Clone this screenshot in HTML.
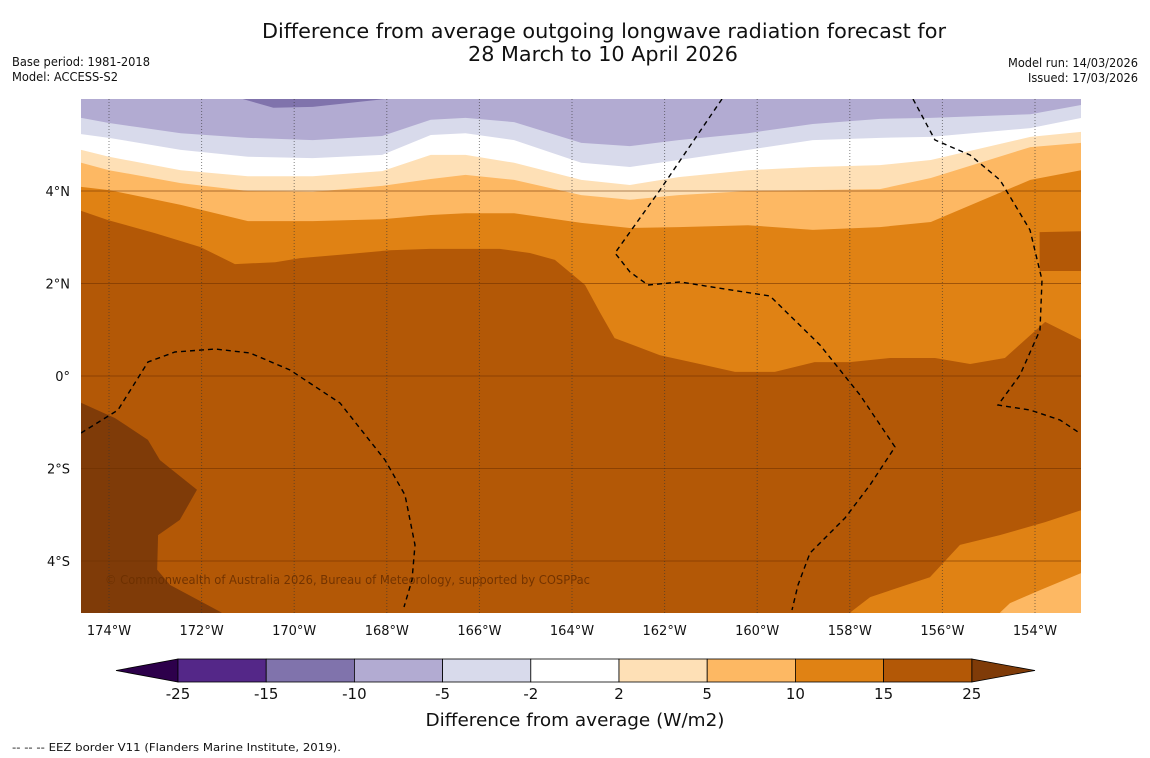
<!DOCTYPE html>
<html><head><meta charset="utf-8"><style>
body{margin:0;background:#fff;font-family:"DejaVu Sans","Liberation Sans",sans-serif}
svg{display:block}
text{font-family:"DejaVu Sans","Liberation Sans",sans-serif}
</style></head><body>
<svg id="c" width="1150" height="758" viewBox="0 0 1150 758" xmlns="http://www.w3.org/2000/svg">
<rect width="1150" height="758" fill="#fff"/>
<text x="604" y="38" font-size="20" text-anchor="middle" fill="#111" textLength="684" lengthAdjust="spacingAndGlyphs">Difference from average outgoing longwave radiation forecast for</text>
<text x="603" y="61" font-size="20" text-anchor="middle" fill="#111" textLength="270" lengthAdjust="spacingAndGlyphs">28 March to 10 April 2026</text>
<text x="12" y="66" font-size="12" fill="#111" textLength="138" lengthAdjust="spacingAndGlyphs">Base period: 1981-2018</text>
<text x="12" y="81" font-size="12" fill="#111" textLength="106" lengthAdjust="spacingAndGlyphs">Model: ACCESS-S2</text>
<text x="1138" y="67" font-size="12" text-anchor="end" fill="#111" textLength="130" lengthAdjust="spacingAndGlyphs">Model run: 14/03/2026</text>
<text x="1138" y="82" font-size="12" text-anchor="end" fill="#111" textLength="110" lengthAdjust="spacingAndGlyphs">Issued: 17/03/2026</text>
<defs><clipPath id="mapclip"><rect x="81" y="99" width="1000" height="514"/></clipPath></defs>
<g id="map" clip-path="url(#mapclip)"></g>
<g id="axes"></g>
<g id="cbar"></g>
<text x="575" y="726" font-size="18" text-anchor="middle" fill="#111" textLength="299" lengthAdjust="spacingAndGlyphs">Difference from average (W/m2)</text>
<text x="12" y="751" font-size="11" fill="#111" textLength="329" lengthAdjust="spacingAndGlyphs">--  --  -- EEZ border V11 (Flanders Marine Institute, 2019).</text>
</svg>
<script>
// ---- data (lon/lat, degrees) ----
const contourLons = [-174.6,-174.0,-172.45,-171.0,-169.6,-168.1,-167.05,-166.3,-165.25,-163.8,-162.75,-161.7,-160.2,-158.8,-157.35,-156.25,-154.1,-153.0];
const latM5 = [5.58,5.47,5.25,5.15,5.10,5.19,5.54,5.58,5.49,5.04,4.97,5.10,5.25,5.45,5.56,5.58,5.66,5.86];
const latM2 = [5.23,5.15,4.89,4.74,4.71,4.78,5.21,5.25,5.10,4.61,4.52,4.67,4.89,5.10,5.15,5.17,5.36,5.58];
const latP2 = [4.89,4.74,4.45,4.32,4.32,4.43,4.78,4.78,4.61,4.24,4.13,4.30,4.45,4.52,4.56,4.67,5.17,5.28];
const latP5 = [4.61,4.45,4.17,4.00,3.98,4.11,4.26,4.35,4.24,3.91,3.81,3.91,4.00,4.02,4.04,4.28,4.95,5.04];
const latP10 = [4.09,4.02,3.70,3.35,3.35,3.39,3.48,3.52,3.52,3.31,3.20,3.22,3.26,3.16,3.22,3.33,4.24,4.45];
const lons15 = [-174.6,-174.02,-173.01,-172.03,-171.28,-170.41,-169.87,-168.79,-167.93,-167.07,-165.56,-164.91,-164.37,-163.72,-163.4,-163.08,-162.1,-161.24,-160.48,-159.62,-158.76,-158.0,-157.13,-156.16,-155.4,-154.65,-153.78,-153.0];
const lats15 = [3.57,3.37,3.09,2.79,2.42,2.46,2.55,2.64,2.72,2.75,2.75,2.66,2.51,1.97,1.38,0.82,0.45,0.26,0.09,0.09,0.30,0.30,0.39,0.39,0.26,0.39,1.17,0.78];
const lonsM10 = [-171.15,-170.45,-169.6,-167.93];
const latsM10 = [6.0,5.80,5.82,6.0];
const lonsPatch = [-153.9,-153.0,-153.0,-153.9];
const latsPatch = [3.11,3.13,2.27,2.27];
const lonsBR10 = [-158.0,-157.56,-156.27,-155.62,-154.76,-153.78,-153.0,-153.0];
const latsBR10 = [-5.12,-4.78,-4.35,-3.65,-3.44,-3.16,-2.90,-5.2];
const lonsBR5 = [-154.76,-154.54,-153.89,-153.0,-153.0];
const latsBR5 = [-5.12,-4.91,-4.63,-4.26,-5.2];
const lonsL25 = [-174.7,-174.6,-173.87,-173.16,-172.9,-172.1,-172.47,-172.94,-172.96,-172.68,-171.56,-174.7];
const latsL25 = [-0.58,-0.58,-0.91,-1.38,-1.82,-2.46,-3.11,-3.44,-4.19,-4.52,-5.12,-5.2];
const lonTicks = [-174,-172,-170,-168,-166,-164,-162,-160,-158,-156,-154];
const lonTickLabels = ["174°W","172°W","170°W","168°W","166°W","164°W","162°W","160°W","158°W","156°W","154°W"];
const latTicks = [4,2,0,-2,-4];
const latTickLabels = ["4°N","2°N","0°","2°S","4°S"];
const cbLevels = [-25,-15,-10,-5,-2,2,5,10,15,25];
const cbColors = ["#542788","#8073ac","#b2abd2","#d8daeb","#ffffff","#fee0b6","#fdb863","#e08214","#b35806"];

const NS="http://www.w3.org/2000/svg";
const X = lon => 109 + (lon + 174) * 46.3;
const Y = lat => 376 - lat * 46.25;
function mk(tag, attrs, parent){const e=document.createElementNS(NS,tag);for(const k in attrs)e.setAttribute(k,attrs[k]);parent.appendChild(e);return e;}
const map=document.getElementById('map');
function polyAbove(lons,lats,color,name){
  let pts=[[X(lons[0]),95]];
  lons.forEach((l,i)=>pts.push([X(l),Y(lats[i])]));
  pts.push([X(lons[lons.length-1])+2,Y(lats[lats.length-1])]);
  pts.push([X(lons[lons.length-1])+2,95]);
  pts[0][0]-=2; pts.splice(1,0,[X(lons[0])-2,Y(lats[0])]);
  const p=mk('polygon',{points:pts.map(q=>q.join(',')).join(' '),fill:color},map);
  
  
}
function poly(lons,lats,color,name){
  const p=mk('polygon',{points:lons.map((l,i)=>X(l)+','+Y(lats[i])).join(' '),fill:color},map);
  
  
}
const base=mk('rect',{x:81,y:99,width:1000,height:514,fill:'#b35806'},map);


polyAbove(lons15,lats15,'#e08214','band-10-15');
polyAbove(contourLons,latP10,'#fdb863','band-5-10');
polyAbove(contourLons,latP5,'#fee0b6','band-2-5');
polyAbove(contourLons,latP2,'#ffffff','band-neutral');
polyAbove(contourLons,latM2,'#d8daeb','band-minus5-minus2');
polyAbove(contourLons,latM5,'#b2abd2','band-minus10-minus5');
poly(lonsM10,latsM10,'#8073ac','band-minus15-minus10');
poly(lonsPatch,latsPatch,'#b35806','patch-15-25-east');
poly(lonsBR10,latsBR10,'#e08214','patch-10-15-southeast');
poly(lonsBR5,latsBR5,'#fdb863','patch-5-10-southeast');
poly(lonsL25,latsL25,'#7f3b08','band-above-25');
// grid
const axes=document.getElementById('axes');
latTicks.forEach((lat,i)=>{
  const l=mk('line',{x1:81,x2:1081,y1:Y(lat),y2:Y(lat),stroke:'#6b3000','stroke-opacity':0.55,'stroke-width':1},map);
  
  
  const t=mk('text',{x:70,y:Y(lat)+5,'font-size':13,'text-anchor':'end',fill:'#111'},axes);
  t.textContent=latTickLabels[i];
  
  
});
lonTicks.forEach((lon,i)=>{
  const l=mk('line',{x1:X(lon),x2:X(lon),y1:99,y2:613,stroke:'#333','stroke-opacity':0.6,'stroke-width':1,'stroke-dasharray':'1,2'},map);
  
  
  const t=mk('text',{x:X(lon),y:635,'font-size':13,'text-anchor':'middle',fill:'#111'},axes);
  t.textContent=lonTickLabels[i];
  
  
});
// EEZ borders (decorative)
const eez=[
 "81,433 118,410 148,362 175,352 215,349 250,353 290,370 340,403 385,460 405,495 415,545 412,580 404,607",
 "722,99 660,190 615,253 630,272 648,285 680,282 770,296 820,345 860,395 895,447 870,485 845,518 810,553 798,585 792,610",
 "913,99 935,140 970,155 1000,180 1030,230 1042,280 1040,330 1020,375 998,405 1030,410 1060,420 1078,432"];
eez.forEach(p=>{
  const e=mk('polyline',{points:p,fill:'none',stroke:'#000','stroke-width':1.4,'stroke-dasharray':'5,4'},map);
  
  
});
const cp=mk('text',{x:105,y:584,'font-size':12,fill:'#6b3000','fill-opacity':0.9,textLength:485,lengthAdjust:'spacingAndGlyphs'},map);
cp.textContent='© Commonwealth of Australia 2026, Bureau of Meteorology, supported by COSPPac';


// colorbar
const cb=document.getElementById('cbar');
const CX = i => 178 + i * 88.2;
const cy0=659, cy1=682;
const lt=mk('polygon',{points:`116,${(cy0+cy1)/2} ${CX(0)},${cy0} ${CX(0)},${cy1}`,fill:'#2d004b',stroke:'#000','stroke-width':0.8},cb);


const n=cbColors.length;
const rt=mk('polygon',{points:`1035,${(cy0+cy1)/2} ${CX(n)},${cy0} ${CX(n)},${cy1}`,fill:'#7f3b08',stroke:'#000','stroke-width':0.8},cb);


cbColors.forEach((c,i)=>{
  const r=mk('rect',{x:CX(i),y:cy0,width:88.2,height:cy1-cy0,fill:c,stroke:'#000','stroke-width':0.8},cb);
  
  
});
cbLevels.forEach((v,i)=>{
  const t=mk('text',{x:CX(i),y:699,'font-size':15,'text-anchor':'middle',fill:'#111'},cb);
  t.textContent=String(v);
  
  
});
</script>
</body></html>
